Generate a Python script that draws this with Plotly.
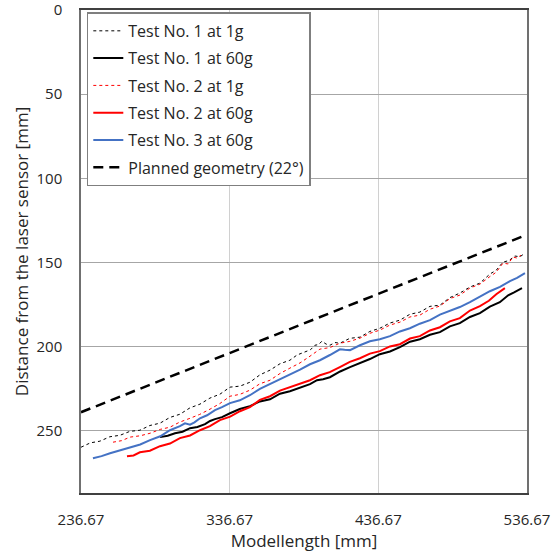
import plotly.graph_objects as go

# Laser profile measurements: model length [mm] vs. distance from the laser sensor [mm]
t1_1g_x = [236.7, 243.0, 249.4, 256.0, 262.9, 269.5, 276.3, 283.0, 289.8, 296.5,
           303.2, 310.0, 316.7, 323.4, 330.1, 336.9, 343.6, 350.3, 357.0, 363.8,
           370.5, 377.2, 382.0, 387.3, 391.0, 394.0, 396.5, 398.7, 401.5, 404.1,
           407.5, 410.8, 417.5, 424.3, 431.0, 437.7, 444.5, 451.2, 457.9, 464.6,
           471.4, 478.1, 484.8, 491.5, 498.3, 505.0, 511.7, 516.0, 520.5, 524.5,
           528.5, 532.0, 535.3]
t1_1g_y = [259.8, 257.2, 256.2, 253.6, 252.7, 250.4, 249.7, 246.9, 245.5, 242.1,
           240.2, 236.4, 234.2, 230.6, 228.3, 224.1, 223.5, 221.2, 216.8, 214.0,
           210.2, 208.1, 205.0, 203.3, 201.9, 199.2, 198.8, 196.8, 198.5, 199.2,
           197.6, 198.0, 195.1, 194.4, 191.0, 189.1, 186.0, 184.3, 180.8, 179.5,
           176.1, 175.4, 170.9, 168.2, 164.6, 162.3, 156.9, 154.6, 149.8, 148.9,
           146.2, 146.6, 144.5]

t1_60g_x = [289.8, 295.0, 299.9, 305.0, 310.0, 315.0, 320.1, 323.5, 326.8, 331.5,
            336.9, 343.5, 350.3, 357.0, 363.8, 370.5, 377.2, 384.0, 390.7, 395.4,
            399.5, 404.1, 411.0, 417.6, 424.3, 431.0, 437.7, 444.5, 451.2, 458.0,
            464.6, 471.4, 478.1, 484.8, 491.5, 498.3, 505.0, 511.7, 518.4, 524.0,
            528.0, 533.3]
t1_60g_y = [253.8, 253.0, 251.5, 250.6, 248.5, 247.8, 246.1, 244.2, 243.1, 241.9,
            239.6, 237.1, 235.4, 232.6, 231.3, 228.0, 226.5, 224.6, 222.3, 220.0,
            219.4, 218.2, 214.8, 212.2, 209.9, 207.4, 204.5, 202.9, 200.3, 197.1,
            195.6, 193.0, 191.4, 188.0, 186.1, 182.4, 180.1, 176.3, 173.6, 169.5,
            167.8, 165.3]

t2_1g_x = [258.2, 264.0, 269.6, 276.5, 283.1, 290.0, 296.5, 303.0, 310.0, 316.5,
           323.4, 330.0, 336.9, 343.5, 350.3, 357.0, 363.8, 370.5, 377.2, 384.0,
           390.7, 397.4, 404.0, 410.8, 417.5, 424.3, 431.0, 437.7, 444.5, 451.2,
           457.9, 464.6, 471.4, 478.1, 484.8, 491.5, 498.3, 505.0, 511.7, 516.0,
           520.5, 524.0, 527.2, 530.0, 532.6]
t2_1g_y = [256.8, 255.9, 253.8, 253.0, 251.5, 249.2, 247.9, 244.9, 242.6, 240.3,
           237.2, 233.9, 229.5, 228.4, 225.9, 222.1, 220.0, 216.0, 212.8, 209.7,
           205.7, 201.5, 200.6, 198.0, 196.9, 195.0, 192.1, 190.2, 187.2, 185.5,
           182.4, 181.3, 177.8, 175.9, 171.5, 169.4, 165.2, 162.9, 158.4, 155.8,
           150.4, 150.9, 146.8, 147.4, 145.7]

t2_60g_x = [267.6, 272.0, 276.3, 283.0, 289.8, 296.5, 303.2, 310.0, 316.7, 323.4,
            330.1, 337.0, 343.6, 350.3, 357.0, 363.8, 370.5, 377.2, 384.0, 390.7,
            397.4, 404.0, 410.8, 417.5, 424.3, 431.0, 437.7, 444.5, 451.2, 458.0,
            464.6, 471.4, 478.1, 484.8, 491.5, 498.3, 505.0, 511.0, 516.0, 521.8]
t2_60g_y = [265.1, 264.7, 262.8, 261.9, 259.2, 257.6, 254.4, 252.8, 249.7, 247.3,
            243.7, 241.6, 238.4, 236.0, 231.7, 229.5, 226.2, 224.1, 221.8, 220.0,
            217.0, 215.2, 212.2, 209.1, 206.9, 204.2, 202.7, 199.9, 198.6, 195.2,
            193.8, 190.4, 188.5, 185.0, 183.1, 178.6, 176.0, 172.8, 168.9, 165.3]

t3_60g_x = [244.7, 250.5, 256.2, 263.0, 269.6, 276.5, 283.1, 290.0, 296.5, 303.2,
            306.6, 310.0, 313.0, 316.7, 321.5, 326.8, 331.5, 336.9, 343.5, 350.3,
            357.0, 363.8, 370.5, 377.2, 384.0, 390.7, 397.4, 404.1, 410.8, 414.0,
            417.6, 424.3, 431.0, 437.7, 444.5, 451.2, 457.9, 464.6, 471.4, 478.1,
            484.8, 491.5, 498.3, 505.0, 511.7, 518.5, 525.2, 530.0, 535.3]
t3_60g_y = [266.3, 265.1, 263.4, 261.8, 259.8, 258.2, 255.6, 253.3, 249.7, 247.3,
            245.6, 246.4, 245.0, 242.6, 240.8, 237.8, 236.0, 233.6, 231.9, 228.9,
            225.1, 222.3, 219.6, 216.4, 213.7, 210.5, 208.1, 205.0, 201.6, 201.9,
            202.1, 199.2, 196.8, 195.6, 193.8, 191.0, 189.1, 186.4, 184.3, 181.0,
            178.9, 176.5, 173.6, 170.4, 167.1, 164.5, 161.1, 159.2, 156.4]

planned_x = [236.67, 536.67]
planned_y = [239.0, 133.5]

x_ticks = [236.67, 336.67, 436.67, 536.67]
x_tick_labels = ["236.67", "336.67", "436.67", "536.67"]
y_ticks = [0, 50, 100, 150, 200, 250]

FONT = "Open Sans"
TXT = "#262626"

series = [
    ("Test No. 1 at 1g", t1_1g_x, t1_1g_y, dict(color="black", width=1, dash="dot")),
    ("Test No. 1 at 60g", t1_60g_x, t1_60g_y, dict(color="black", width=2)),
    ("Test No. 2 at 1g", t2_1g_x, t2_1g_y, dict(color="#ff0000", width=1, dash="dot")),
    ("Test No. 2 at 60g", t2_60g_x, t2_60g_y, dict(color="#ff0000", width=2)),
    ("Test No. 3 at 60g", t3_60g_x, t3_60g_y, dict(color="#4472c4", width=2)),
    ("Planned geometry (22°)", planned_x, planned_y, dict(color="black", width=2.5, dash="10px,6px")),
]

fig = go.Figure()
for i, (name, xs, ys, line) in enumerate(series):
    fig.add_trace(go.Scatter(x=xs, y=ys, mode="lines", name=name,
                             legendgroup=f"g{i}", line=line))

fig.update_layout(
    width=559, height=555,
    margin=dict(l=81, r=32, t=10, b=62),
    paper_bgcolor="white", plot_bgcolor="white",
    font=dict(family=FONT, size=15, color=TXT),
    showlegend=True,
    legend=dict(x=0.013, y=0.995, xanchor="left", yanchor="top",
                bgcolor="white", bordercolor="#7f7f7f", borderwidth=1.5,
                tracegroupgap=3.5, traceorder="grouped",
                font=dict(family=FONT, size=16, color=TXT)),
)

fig.update_xaxes(
    range=[236.67, 536.67], tickvals=x_ticks, ticktext=x_tick_labels,
    showgrid=True, gridcolor="#d0d0d0", gridwidth=1,
    showline=True, linecolor="#404040", linewidth=1.5, mirror=True,
    ticks="", ticklabelstandoff=12, zeroline=False, automargin=False,
    ticklabeloverflow="allow",
    title=dict(text="Modellength [mm]", font=dict(family=FONT, size=17, color=TXT), standoff=6),
)
fig.update_yaxes(
    range=[287, 0], tickvals=y_ticks,
    showgrid=True, gridcolor="#a6a6a6", gridwidth=1,
    showline=True, linecolor="#707070", linewidth=1.5, mirror=True,
    ticks="", ticklabelstandoff=14, zeroline=False, automargin=False,
    ticklabeloverflow="allow",
    title=dict(text="Distance from the laser sensor [mm]", font=dict(family=FONT, size=17, color=TXT), standoff=4),
)

fig.write_html("out.html")
